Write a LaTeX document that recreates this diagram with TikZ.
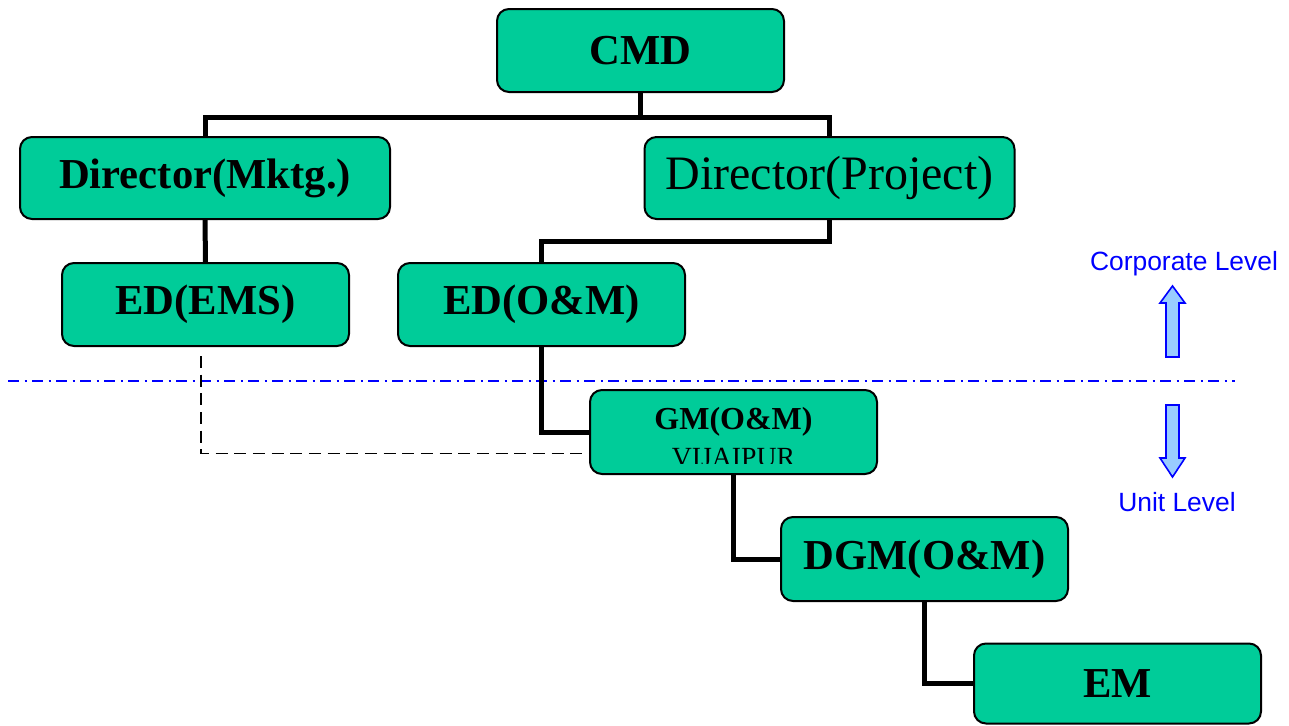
\documentclass[tikz,border=0pt]{standalone}
\usepackage{fontspec}
\setmainfont{Liberation Serif}
\newfontfamily\arialf{Liberation Sans}
\usetikzlibrary{calc}
\definecolor{boxgreen}{HTML}{00CC99}
\definecolor{arrowfill}{HTML}{99CCFF}
\tikzset{
  orgbox/.style={draw=black, line width=1.5pt, fill=boxgreen, rounded corners=9pt,
    minimum width=215.25pt, minimum height=62.25pt, inner sep=0pt, align=center,
    font=\fontsize{32}{36}\selectfont\bfseries},
  dirbox/.style={orgbox, minimum width=277.5pt, minimum height=61.5pt},
  link/.style={draw=black, line width=3.75pt},
  dlink/.style={draw=black, line width=1.1pt, dash pattern=on 9pt off 5pt},
  levelline/.style={draw=blue, line width=1.1pt, dash pattern=on 8.5pt off 4pt on 1.5pt off 4pt},
  levelarrow/.style={draw=blue, line width=1.2pt, fill=arrowfill, line join=miter},
  leveltext/.style={text=blue, font=\arialf\fontsize{19.8}{22}\selectfont, inner sep=0pt}
}
\begin{document}
\begin{tikzpicture}[x=0.75pt,y=-0.75pt]
\useasboundingbox (0,0) rectangle (1289,725);
% level line
\coordinate (ll) at (8,381);
\coordinate (lr) at (1235,381);
\draw[levelline] (ll) -- (lr);
% boxes
\node[orgbox] (cmd) at (640.5,50.5) {CMD};
\node[dirbox] (dirm) at (205,178) {Director(Mktg.)};
\node[dirbox, font=\fontsize{36}{40}\selectfont] (dirp) at (829.5,178) {\raisebox{-2pt}{Director(Project)}};
\node[orgbox] (edems) at (205.5,304.5) {ED(EMS)};
\node[orgbox] (edom) at (541.5,304.5) {ED(O\&M)};
\node[orgbox, minimum height=63pt] (gm) at (733.5,432) {};
\begin{scope}
  \clip (590,380) rectangle (877,463.5);
  \node[font=\fontsize{24}{26}\selectfont\bfseries, inner sep=0pt] (gmt) at (733.5,422) {GM(O\&M)};
  \node[font=\fontsize{20.8}{22}\selectfont, inner sep=0pt, anchor=base] (gmv) at (733.5,466) {VIJAIPUR};
\end{scope}
\node[orgbox, minimum height=63pt] (dgm) at (924.5,559) {DGM(O\&M)};
\node[orgbox, minimum height=60pt] (em) at (1117.5,683.5) {EM};
% connectors
\draw[link] (cmd.south) -- ++(0,24) -| (dirm.north);
\draw[link] (cmd.south) -- ++(0,24) -| (dirp.north);
\draw[link] (dirm.south) -- (edems.north);
\draw[link] (dirp.south) -- ++(0,21) -| (edom.north);
\draw[link] (edom.south) |- (gm.west);
\draw[link] (gm.south) |- (dgm.west);
\draw[link] (dgm.south) |- (em.west);
\coordinate (dstart) at (201,356);
\draw[dlink] (dstart) |- ($(gm.west)!0.5!(gm.south west)$);
% level arrows
\draw[levelarrow] (1166,357) -- (1166,303) -- (1160,303) -- (1172.5,286) -- (1185,303) -- (1179,303) -- (1179,357) -- cycle;
\draw[levelarrow] (1166,405) -- (1166,458) -- (1160,458) -- (1172.5,477) -- (1185,458) -- (1179,458) -- (1179,405) -- cycle;
\node[leveltext] (corp) at (1184,264) {Corporate Level};
\node[leveltext] (unit) at (1177,502) {Unit Level};
\end{tikzpicture}
\end{document}
